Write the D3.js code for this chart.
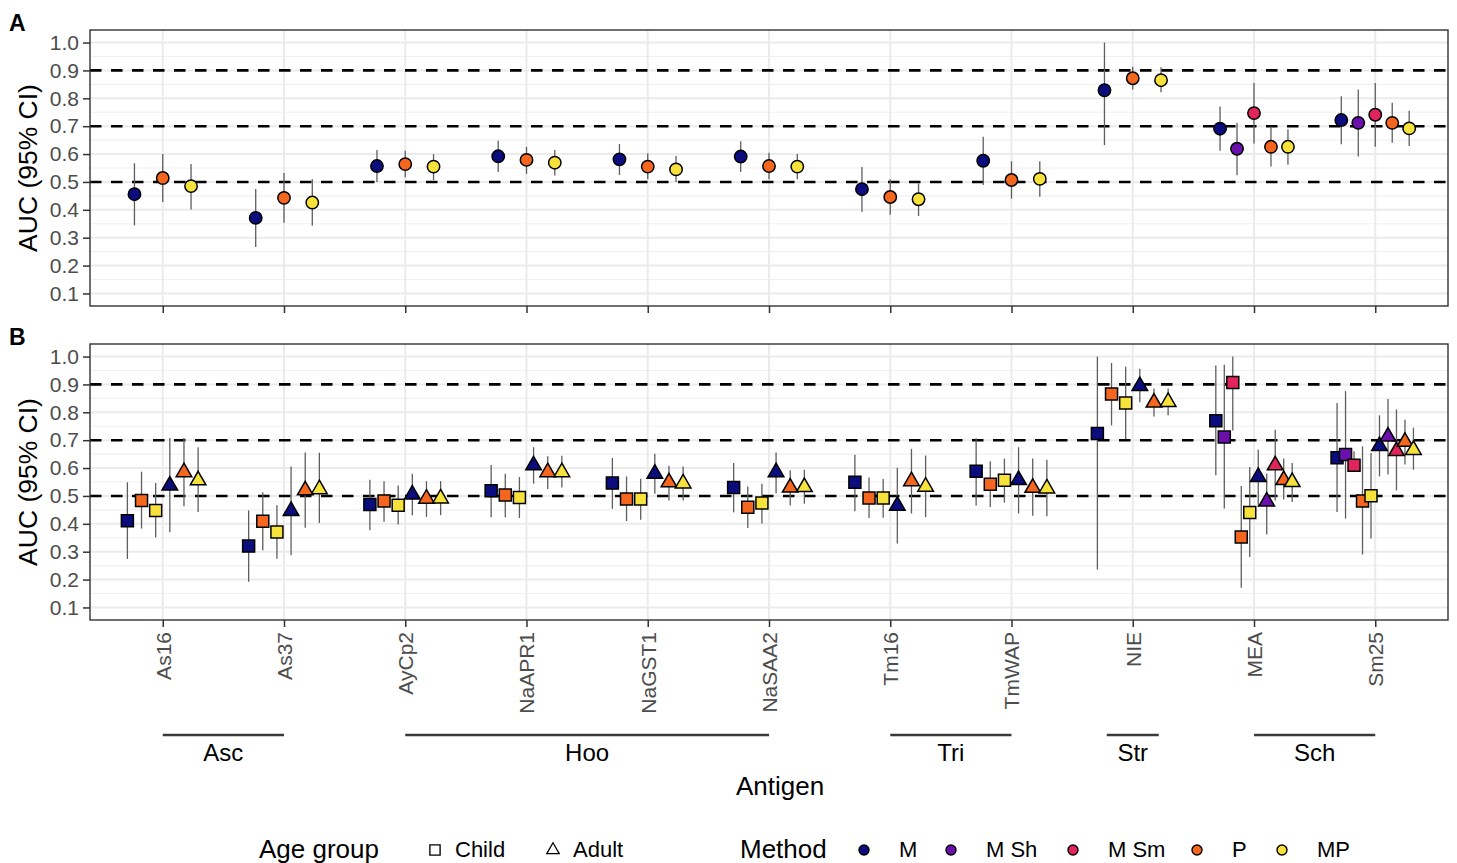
<!DOCTYPE html>
<html>
<head>
<meta charset="utf-8">
<script src="https://cdn.jsdelivr.net/npm/d3@7"></script>
<style>
  body { margin: 0; background: #ffffff; }
  svg { display: block; font-family: "Liberation Sans", Arial, Helvetica, sans-serif; }
</style>
</head>
<body>
<svg id="chart" width="1457" height="863"></svg>
<script>
// ---- categories ----
const antigens = ["As16", "As37", "AyCp2", "NaAPR1", "NaGST1", "NaSAA2", "Tm16", "TmWAP", "NIE", "MEA", "Sm25"];
const groupNames = ["Asc", "Hoo", "Tri", "Str", "Sch"];
const groupFirst = ["As16", "AyCp2", "Tm16", "NIE", "MEA"];
const groupLast  = ["As37", "NaSAA2", "TmWAP", "NIE", "Sm25"];
const methods = ["M", "M Sh", "M Sm", "P", "MP"];
const methodColors = ["#0b0c7e", "#6b10ad", "#e1245b", "#f5671f", "#f6e23b"];
const ageGroups = ["Child", "Adult"];
const yTicks = [0.1, 0.2, 0.3, 0.4, 0.5, 0.6, 0.7, 0.8, 0.9, 1.0];
const refLines = [0.5, 0.7, 0.9];

// ---- panel A: all ages, [AUC, lower 95% CI, upper 95% CI] per antigen ----
const allM = [[0.456, 0.344, 0.567], [0.371, 0.267, 0.475], [0.557, 0.500, 0.615], [0.592, 0.536, 0.648],
  [0.581, 0.525, 0.636], [0.591, 0.536, 0.646], [0.474, 0.393, 0.554], [0.576, 0.489, 0.662],
  [0.829, 0.632, 1.000], [0.691, 0.612, 0.771], [0.722, 0.635, 0.807]];
const allMSh = [null, null, null, null, null, null, null, null, null, [0.619, 0.524, 0.712], [0.712, 0.591, 0.832]];
const allMSm = [null, null, null, null, null, null, null, null, null, [0.747, 0.638, 0.855], [0.741, 0.626, 0.855]];
const allP = [[0.514, 0.428, 0.600], [0.443, 0.354, 0.532], [0.564, 0.517, 0.612], [0.579, 0.529, 0.626],
  [0.555, 0.510, 0.603], [0.557, 0.510, 0.605], [0.446, 0.382, 0.510], [0.507, 0.440, 0.574],
  [0.872, 0.832, 0.913], [0.626, 0.555, 0.698], [0.712, 0.641, 0.784]];
const allMP = [[0.485, 0.401, 0.564], [0.426, 0.343, 0.510], [0.555, 0.507, 0.600], [0.569, 0.523, 0.615],
  [0.545, 0.500, 0.593], [0.555, 0.510, 0.600], [0.438, 0.378, 0.495], [0.511, 0.447, 0.574],
  [0.865, 0.822, 0.911], [0.626, 0.562, 0.689], [0.692, 0.629, 0.755]];

// ---- panel B: by age group ----
const childM = [[0.411, 0.274, 0.549], [0.320, 0.192, 0.448], [0.469, 0.377, 0.558], [0.519, 0.424, 0.611],
  [0.546, 0.454, 0.636], [0.530, 0.441, 0.618], [0.549, 0.445, 0.648], [0.589, 0.466, 0.707],
  [0.724, 0.236, 1.000], [0.770, 0.574, 0.968], [0.637, 0.442, 0.833]];
const childMSh = [null, null, null, null, null, null, null, null, null, [0.711, 0.455, 0.971], [0.649, 0.419, 0.876]];
const childMSm = [null, null, null, null, null, null, null, null, null, [0.907, 0.735, 1.000], [0.610, 0.590, 0.660]];
const childP = [[0.484, 0.383, 0.587], [0.409, 0.305, 0.513], [0.482, 0.407, 0.553], [0.503, 0.424, 0.580],
  [0.489, 0.410, 0.570], [0.459, 0.385, 0.534], [0.493, 0.421, 0.566], [0.542, 0.460, 0.624],
  [0.866, 0.753, 0.977], [0.353, 0.171, 0.536], [0.482, 0.290, 0.678]];
const childMP = [[0.448, 0.351, 0.546], [0.371, 0.275, 0.467], [0.467, 0.398, 0.537], [0.494, 0.421, 0.568],
  [0.489, 0.415, 0.562], [0.475, 0.401, 0.544], [0.493, 0.422, 0.561], [0.556, 0.476, 0.634],
  [0.833, 0.703, 0.963], [0.441, 0.281, 0.604], [0.501, 0.347, 0.654]];
const adultM = [[0.537, 0.370, 0.708], [0.446, 0.287, 0.606], [0.505, 0.431, 0.580], [0.610, 0.544, 0.675],
  [0.580, 0.508, 0.651], [0.585, 0.510, 0.656], [0.465, 0.329, 0.601], [0.557, 0.437, 0.675],
  [0.894, 0.836, 0.956], [0.568, 0.460, 0.667], [0.679, 0.570, 0.789]];
const adultMSh = [null, null, null, null, null, null, null, null, null, [0.480, 0.362, 0.580], [0.713, 0.577, 0.848]];
const adultMSm = [null, null, null, null, null, null, null, null, null, [0.610, 0.484, 0.737], [0.661, 0.520, 0.810]];
const adultP = [[0.585, 0.463, 0.708], [0.520, 0.386, 0.656], [0.490, 0.425, 0.553], [0.585, 0.525, 0.642],
  [0.549, 0.484, 0.608], [0.530, 0.466, 0.592], [0.553, 0.437, 0.669], [0.529, 0.429, 0.634],
  [0.835, 0.785, 0.885], [0.557, 0.487, 0.634], [0.694, 0.613, 0.773]];
const adultMP = [[0.556, 0.442, 0.675], [0.524, 0.403, 0.655], [0.491, 0.431, 0.553], [0.585, 0.530, 0.644],
  [0.545, 0.484, 0.606], [0.532, 0.472, 0.594], [0.533, 0.424, 0.645], [0.527, 0.427, 0.630],
  [0.837, 0.789, 0.885], [0.550, 0.478, 0.618], [0.665, 0.594, 0.745]];

// ---- series definitions (dodge order) ----
const seriesA = [allM, allMSh, allMSm, allP, allMP].map((vals, i) => ({ method: i, shape: "circle", vals }));
const seriesB = [childM, childMSh, childMSm, childP, childMP].map((vals, i) => ({ method: i, shape: "square", vals }))
  .concat([adultM, adultMSh, adultMSm, adultP, adultMP].map((vals, i) => ({ method: i, shape: "triangle", vals })));

// ---- layout ----
const W = 1457, H = 863;
const plotLeft = 90, plotRight = 1448;
const panels = [
  { label: "A", top: 30, bottom: 306, series: seriesA, showLabels: false },
  { label: "B", top: 344, bottom: 620, series: seriesB, showLabels: true }
];
const dodgeWidth = 0.7;
const tickFont = "21px";
const greyText = "#4d4d4d";

const svg = d3.select("#chart");
svg.append("rect").attr("width", W).attr("height", H).attr("fill", "#ffffff");

const x = d3.scalePoint().domain(antigens).range([plotLeft, plotRight]).padding(0.6);
const step = x.step();

function symbolPath(shape) {
  if (shape === "circle") {
    const r = 6.2;
    return `M${-r},0A${r},${r} 0 1,0 ${r},0A${r},${r} 0 1,0 ${-r},0Z`;
  }
  if (shape === "square") {
    const s = 6;
    return `M${-s},${-s}H${s}V${s}H${-s}Z`;
  }
  // triangle centred on its centroid
  const h = 13.5, hb = h / Math.sqrt(3);
  return `M0,${-h * 2 / 3}L${hb},${h / 3}L${-hb},${h / 3}Z`;
}

panels.forEach(p => {
  const y = d3.scaleLinear().domain([0.055, 1.045]).range([p.bottom, p.top]);
  const g = svg.append("g");

  // grid: minor then major
  const minor = d3.range(0.15, 1.0, 0.1);
  g.append("g").selectAll("line").data(minor).join("line")
    .attr("x1", plotLeft).attr("x2", plotRight)
    .attr("y1", d => y(d)).attr("y2", d => y(d))
    .attr("stroke", "#f0f0f0").attr("stroke-width", 1.2);
  g.append("g").selectAll("line").data(yTicks).join("line")
    .attr("x1", plotLeft).attr("x2", plotRight)
    .attr("y1", d => y(d)).attr("y2", d => y(d))
    .attr("stroke", "#ebebeb").attr("stroke-width", 2);
  g.append("g").selectAll("line").data(antigens).join("line")
    .attr("x1", d => x(d)).attr("x2", d => x(d))
    .attr("y1", p.top).attr("y2", p.bottom)
    .attr("stroke", "#ebebeb").attr("stroke-width", 2);

  // reference lines
  g.append("g").selectAll("line").data(refLines).join("line")
    .attr("x1", plotLeft).attr("x2", plotRight)
    .attr("y1", d => y(d)).attr("y2", d => y(d))
    .attr("stroke", "#000").attr("stroke-width", 2.6)
    .attr("stroke-dasharray", "11.5,9.5");

  // dodged marks
  const marks = [];
  antigens.forEach((a, j) => {
    const present = p.series.filter(s => s.vals[j] !== null);
    const n = present.length;
    present.forEach((s, k) => {
      const [auc, lo, hi] = s.vals[j];
      const cx = x(a) + (k - (n - 1) / 2) * (dodgeWidth / n) * step;
      marks.push({ cx, auc, lo, hi, method: s.method, shape: s.shape });
    });
  });

  g.append("g").selectAll("line").data(marks).join("line")
    .attr("x1", d => d.cx).attr("x2", d => d.cx)
    .attr("y1", d => y(d.lo)).attr("y2", d => y(d.hi))
    .attr("stroke", "#5e5e5e").attr("stroke-width", 1.3);

  g.append("g").selectAll("path").data(marks).join("path")
    .attr("transform", d => `translate(${d.cx},${y(d.auc)})`)
    .attr("d", d => symbolPath(d.shape))
    .attr("fill", d => methodColors[d.method])
    .attr("stroke", "#000").attr("stroke-width", 1.5)
    .attr("stroke-linejoin", "miter");

  // panel border
  g.append("rect").attr("x", plotLeft).attr("y", p.top)
    .attr("width", plotRight - plotLeft).attr("height", p.bottom - p.top)
    .attr("fill", "none").attr("stroke", "#333").attr("stroke-width", 1.4);

  // y axis
  const ya = g.append("g").attr("transform", `translate(${plotLeft},0)`)
    .call(d3.axisLeft(y).tickValues(yTicks).tickFormat(d3.format(".1f")).tickSize(7).tickPadding(4));
  ya.select(".domain").remove();
  ya.selectAll(".tick line").attr("stroke", "#333").attr("stroke-width", 1.5);
  ya.selectAll(".tick text").attr("fill", greyText).style("font-size", tickFont)
    .style("font-family", "'Liberation Sans', Arial, sans-serif");

  // x axis
  const xa = g.append("g").attr("transform", `translate(0,${p.bottom})`)
    .call(d3.axisBottom(x).tickSize(7));
  xa.select(".domain").remove();
  xa.selectAll(".tick line").attr("stroke", "#333").attr("stroke-width", 1.5);
  if (p.showLabels) {
    xa.selectAll(".tick text")
      .attr("transform", "rotate(-90)")
      .attr("x", -12).attr("y", 0).attr("dy", "0.35em")
      .style("text-anchor", "end")
      .attr("fill", greyText).style("font-size", tickFont)
      .style("font-family", "'Liberation Sans', Arial, sans-serif");
  } else {
    xa.selectAll(".tick text").remove();
  }

  // axis title
  svg.append("text")
    .attr("transform", `translate(37,${(p.top + p.bottom) / 2}) rotate(-90)`)
    .attr("text-anchor", "middle")
    .style("font-size", "26.5px").attr("fill", "#000")
    .text("AUC (95% CI)");

  // panel tag
  svg.append("text").attr("x", 9).attr("y", p.top + 1)
    .style("font-size", "23px").style("font-weight", "bold").attr("fill", "#000")
    .text(p.label);
});

// antigen family brackets
const bracketY = 735;
groupNames.forEach((name, i) => {
  let x1 = x(groupFirst[i]), x2 = x(groupLast[i]);
  if (x1 === x2) { x1 -= 26; x2 += 26; }
  svg.append("line").attr("x1", x1).attr("x2", x2).attr("y1", bracketY).attr("y2", bracketY)
    .attr("stroke", "#3a3a3a").attr("stroke-width", 2.4);
  svg.append("text").attr("x", (x1 + x2) / 2).attr("y", 761)
    .attr("text-anchor", "middle").style("font-size", "24px").attr("fill", "#000")
    .text(name);
});

// x axis title
svg.append("text").attr("x", 780).attr("y", 795).attr("text-anchor", "middle")
  .style("font-size", "26px").attr("fill", "#000").text("Antigen");

// legends
const legY = 850;
svg.append("text").attr("x", 259).attr("y", legY + 8).style("font-size", "26px").attr("fill", "#000").text("Age group");
const ageShapes = ["square", "triangle"];
const ageSymX = [435, 553];
ageGroups.forEach((a, i) => {
  const sc = ageShapes[i] === "square" ? 0.85 : 0.8;
  svg.append("path").attr("transform", `translate(${ageSymX[i]},${legY}) scale(${sc})`)
    .attr("d", symbolPath(ageShapes[i])).attr("fill", "none").attr("stroke", "#000").attr("stroke-width", 1.6);
  svg.append("text").attr("x", ageSymX[i] + 20).attr("y", legY + 7).style("font-size", "22px").attr("fill", "#000").text(a);
});

svg.append("text").attr("x", 740).attr("y", legY + 8).style("font-size", "26px").attr("fill", "#000").text("Method");
const methSymX = [864, 951, 1073, 1197, 1282];
methods.forEach((m, i) => {
  svg.append("circle").attr("cx", methSymX[i]).attr("cy", legY).attr("r", 5)
    .attr("fill", methodColors[i]).attr("stroke", "#000").attr("stroke-width", 1.4);
  svg.append("text").attr("x", methSymX[i] + 35).attr("y", legY + 7).style("font-size", "22px").attr("fill", "#000").text(m);
});
</script>
</body>
</html>
